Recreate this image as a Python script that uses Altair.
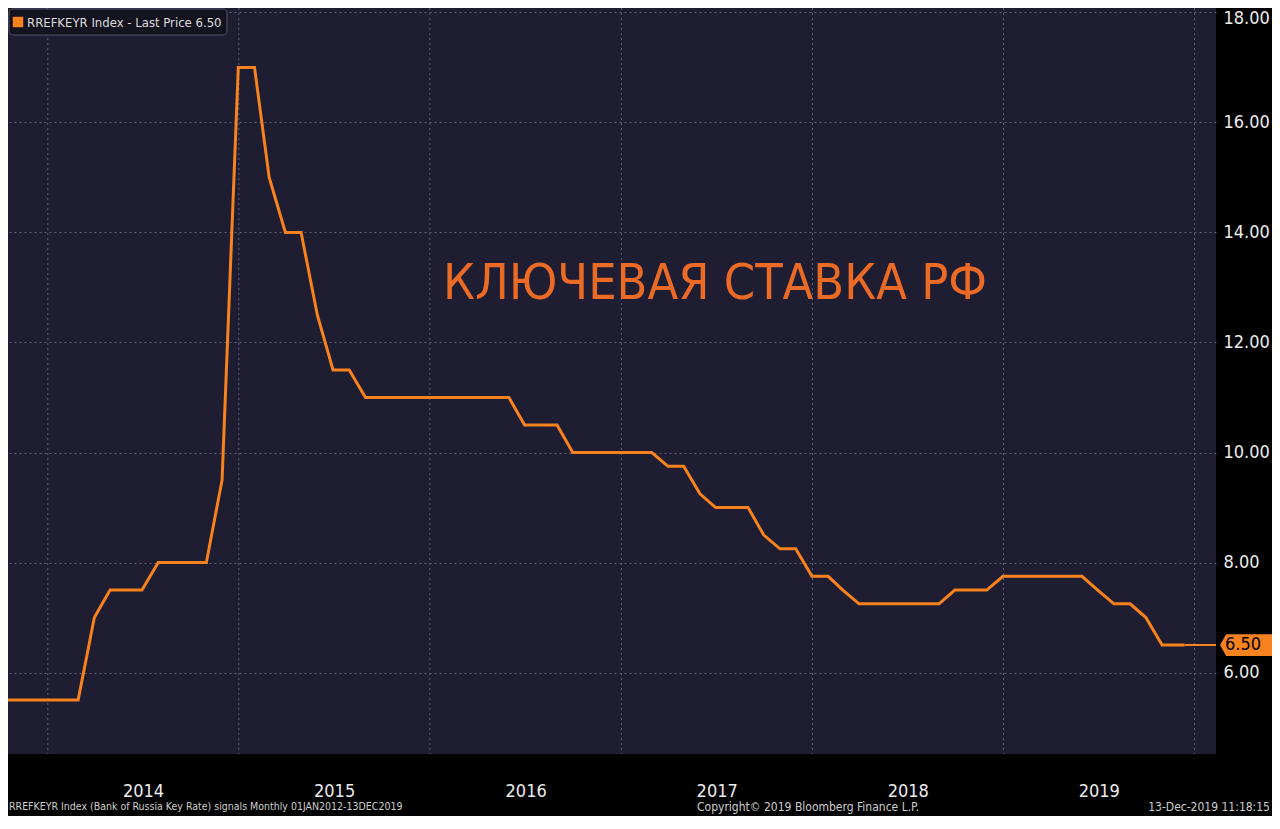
import altair as alt
import pandas as pd

# ---- data ----
rates = [
    5.5, 5.5, 5.5, 5.5,                                              # Sep-Dec 2013
    5.5, 5.5, 7.0, 7.5, 7.5, 7.5, 8.0, 8.0, 8.0, 8.0, 9.5, 17.0,     # 2014
    17.0, 15.0, 14.0, 14.0, 12.5, 11.5, 11.5, 11.0, 11.0, 11.0, 11.0, 11.0,  # 2015
    11.0, 11.0, 11.0, 11.0, 11.0, 10.5, 10.5, 10.5, 10.0, 10.0, 10.0, 10.0,  # 2016
    10.0, 10.0, 9.75, 9.75, 9.25, 9.0, 9.0, 9.0, 8.5, 8.25, 8.25, 7.75,      # 2017
    7.75, 7.5, 7.25, 7.25, 7.25, 7.25, 7.25, 7.25, 7.5, 7.5, 7.5, 7.75,      # 2018
    7.75, 7.75, 7.75, 7.75, 7.75, 7.5, 7.25, 7.25, 7.0, 6.5, 6.5, 6.5,       # 2019
]
dates = [d.strftime("%Y-%m-%dT00:00:00") for d in pd.date_range("2013-09-30", periods=len(rates), freq="ME")]
dates[-1] = "2019-12-13T00:00:00"
last_price = 6.5
year_starts = [f"{y}-01-01T00:00:00" for y in range(2014, 2021)]
year_labels = list(range(2014, 2020))
y_ticks = [6, 8, 10, 12, 14, 16, 18]
domain_end = "2020-02-13T00:00:00"

title_text = "КЛЮЧЕВАЯ СТАВКА РФ"
legend_text = "RREFKEYR Index - Last Price 6.50"
footer_left = "RREFKEYR Index (Bank of Russia Key Rate) signals  Monthly 01JAN2012-13DEC2019"
footer_mid = "Copyright\u00a9 2019 Bloomberg Finance L.P."
footer_right = "13-Dec-2019 11:18:15"

# ---- layout ----
W, H = 1208, 746
FONT = "DejaVu Sans Condensed, Liberation Sans Narrow, sans-serif"
ORANGE = "#f7821e"
GRID = "#62627a"

df = pd.DataFrame({"d": dates, "v": rates})

xscale = alt.Scale(domain=[alt.DateTime(year=2013, month=10, date=17),
                           alt.DateTime(year=2020, month=2, date=11)])
yscale = alt.Scale(domain=[4.52, 18.08], nice=False, zero=False)

xaxis = alt.Axis(
    values=[alt.DateTime(year=y, month=7, date=2) for y in year_labels],
    format="%Y", labelFont=FONT, labelFontSize=18, labelColor="#ececec",
    grid=False, ticks=False, domain=False, labelPadding=28, title=None,
    labelOverlap=False, labelFlush=False,
)
yaxis = alt.Axis(
    orient="right", values=y_ticks, format=".2f", labelFont=FONT,
    labelFontSize=18, labelColor="#ececec", labelPadding=7, grid=True,
    gridColor=GRID, gridDash=[2, 3], gridWidth=1, ticks=False, domain=False,
    title=None, labelOverlap=False, labelFlush=False,
    labelOffset={"condition": {"test": "datum.value >= 18", "value": 6}, "value": 0},
)

def X(field):
    return alt.X(field, type="temporal", scale=xscale, axis=xaxis)

def Y(field):
    return alt.Y(field, type="quantitative", scale=yscale, axis=yaxis)

vgrid = alt.Chart(pd.DataFrame({"d": year_starts})).mark_rule(
    color=GRID, strokeDash=[2, 3], strokeWidth=1
).encode(x=X("d"))

line = alt.Chart(df).mark_line(color=ORANGE, strokeWidth=3, clip=True).encode(
    x=X("d"), y=Y("v")
)

ext = alt.Chart(pd.DataFrame({"d": [dates[-1]], "d2": [domain_end], "v": [last_price]})).mark_rule(
    color=ORANGE, strokeWidth=2, clip=True
).encode(x=X("d"), x2=alt.X2("d2"), y=Y("v"))

big_title = alt.Chart(pd.DataFrame({"t": [title_text]})).mark_text(
    font=FONT, fontSize=50, color="#ea6a26", align="center", baseline="middle"
).encode(x=alt.value(707), y=alt.value(276), text="t:N")

legend_box = alt.Chart(pd.DataFrame({"a": [1]})).mark_rect(
    fill="#141320", stroke="#55556a", strokeWidth=1, cornerRadius=4
).encode(x=alt.value(1), x2=alt.value(219), y=alt.value(1), y2=alt.value(27))

legend_sq = alt.Chart(pd.DataFrame({"a": [1]})).mark_square(
    color=ORANGE, opacity=1, filled=True, size=110
).encode(x=alt.value(10), y=alt.value(14))

legend_txt = alt.Chart(pd.DataFrame({"t": [legend_text]})).mark_text(
    font=FONT, fontSize=13, color="#dcdcdc", align="left", baseline="middle"
).encode(x=alt.value(19), y=alt.value(14.5), text="t:N")

tag = alt.Chart(pd.DataFrame({"v": [last_price]})).mark_point(
    shape="M -1 0 L -0.8 -0.35 L 1 -0.35 L 1 0.35 L -0.8 0.35 Z",
    filled=True, fill=ORANGE, opacity=1, strokeWidth=0, size=3844, clip=False
).encode(x=alt.value(1243), y=Y("v"))

tag_txt = alt.Chart(pd.DataFrame({"v": [last_price], "t": ["6.50"]})).mark_text(
    font=FONT, fontSize=18, color="#000000", align="left", baseline="middle", clip=False
).encode(x=alt.value(1217), y=Y("v"), text="t:N")

def footer(text, x, align, size):
    return alt.Chart(pd.DataFrame({"t": [text]})).mark_text(
        font=FONT, fontSize=size, color="#cfcfcf", align=align, baseline="middle"
    ).encode(x=alt.value(x), y=alt.value(799), text="t:N")

chart = alt.layer(
    vgrid, line, ext, big_title, legend_box, legend_sq, legend_txt, tag, tag_txt,
    footer(footer_left, 1, "left", 10.5),
    footer(footer_mid, 689, "left", 12),
    footer(footer_right, 1262, "right", 12),
).properties(
    width=W, height=H,
    autosize=alt.AutoSizeParams(type="none"),
    padding={"left": 0, "top": 0, "right": 56, "bottom": 62},
    background="#000000",
).configure_view(fill="#1e1d31", strokeWidth=0)

chart.save("out.html", embed_options={"renderer": "svg", "actions": False})
